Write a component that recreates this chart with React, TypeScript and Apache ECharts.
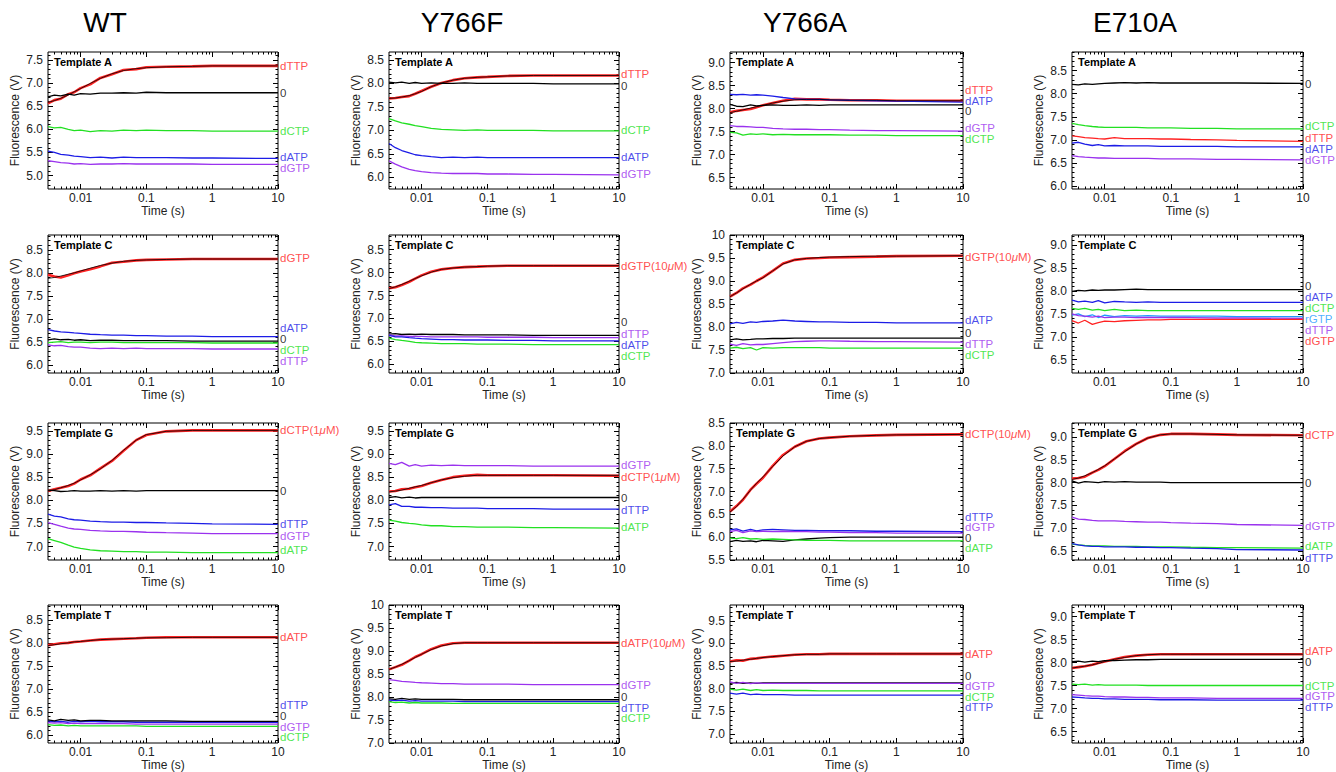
import React, { useEffect, useRef } from 'react';
import * as echarts from 'echarts';

// ---------- shared axis data ----------
const T = [0.0032, 0.004, 0.005, 0.0065, 0.008, 0.01, 0.014, 0.02, 0.03, 0.045, 0.07, 0.1, 0.2, 0.5, 1, 10];
const X_MIN = 0.0032;
const X_MAX = 10;
const X_LABELS = [0.01, 0.1, 1, 10];
const X_MINOR = [0.004, 0.005, 0.006, 0.007, 0.008, 0.009, 0.02, 0.03, 0.04, 0.05, 0.06, 0.07, 0.08, 0.09, 0.2, 0.3, 0.4, 0.5, 0.6, 0.7, 0.8, 0.9, 2, 3, 4, 5, 6, 7, 8, 9];
const MUTANTS = ['WT', 'Y766F', 'Y766A', 'E710A'];
const TEMPLATES = ['Template A', 'Template C', 'Template G', 'Template T'];

// ---------- WT ----------
const WT_A_RANGE = [4.71, 7.67];
const WT_A_TICKS = [5.0, 5.5, 6.0, 6.5, 7.0, 7.5];
const WT_A_dTTP = [6.56, 6.63, 6.66, 6.76, 6.8, 6.89, 6.97, 7.11, 7.19, 7.28, 7.3, 7.34, 7.35, 7.36, 7.37, 7.37];
const WT_A_FIT = [6.58, 6.62, 6.67, 6.74, 6.81, 6.88, 6.99, 7.1, 7.2, 7.27, 7.31, 7.33, 7.35, 7.36, 7.37, 7.37];
const WT_A_0 = [6.7, 6.74, 6.72, 6.76, 6.74, 6.77, 6.76, 6.78, 6.78, 6.79, 6.78, 6.8, 6.79, 6.79, 6.79, 6.79];
const WT_A_dCTP = [6.06, 6.03, 6.04, 6.0, 5.97, 5.98, 5.95, 5.97, 5.96, 5.98, 5.97, 5.98, 5.97, 5.97, 5.96, 5.96];
const WT_A_dATP = [5.53, 5.5, 5.46, 5.44, 5.42, 5.41, 5.39, 5.4, 5.38, 5.4, 5.39, 5.39, 5.39, 5.38, 5.38, 5.37];
const WT_A_dGTP = [5.32, 5.3, 5.28, 5.27, 5.25, 5.26, 5.24, 5.25, 5.25, 5.26, 5.25, 5.25, 5.25, 5.25, 5.24, 5.24];
const WT_A_LABELY = [7.37, 6.78, 5.96, 5.41, 5.17];

const WT_C_RANGE = [5.83, 8.82];
const WT_C_TICKS = [6.0, 6.5, 7.0, 7.5, 8.0, 8.5];
const WT_C_dGTP = [7.96, 7.92, 7.9, 7.95, 7.99, 8.03, 8.08, 8.14, 8.22, 8.24, 8.27, 8.28, 8.29, 8.3, 8.3, 8.3];
const WT_C_FIT = [7.88, 7.9, 7.93, 7.97, 8.0, 8.04, 8.1, 8.16, 8.21, 8.25, 8.27, 8.28, 8.29, 8.3, 8.3, 8.3];
const WT_C_dATP = [6.77, 6.74, 6.72, 6.71, 6.7, 6.69, 6.67, 6.66, 6.65, 6.65, 6.64, 6.64, 6.63, 6.63, 6.62, 6.62];
const WT_C_0 = [6.55, 6.57, 6.55, 6.56, 6.54, 6.55, 6.53, 6.54, 6.54, 6.53, 6.53, 6.53, 6.53, 6.52, 6.52, 6.52];
const WT_C_dCTP = [6.49, 6.5, 6.51, 6.49, 6.5, 6.5, 6.49, 6.5, 6.5, 6.49, 6.49, 6.49, 6.49, 6.49, 6.48, 6.48];
const WT_C_dTTP = [6.44, 6.42, 6.43, 6.4, 6.39, 6.39, 6.37, 6.36, 6.37, 6.36, 6.37, 6.36, 6.36, 6.36, 6.35, 6.35];
const WT_C_LABELY = [8.32, 6.81, 6.57, 6.33, 6.09];

const WT_G_RANGE = [6.71, 9.67];
const WT_G_TICKS = [7.0, 7.5, 8.0, 8.5, 9.0, 9.5];
const WT_G_dCTP = [8.2, 8.24, 8.27, 8.31, 8.36, 8.45, 8.54, 8.69, 8.85, 9.07, 9.3, 9.41, 9.49, 9.51, 9.51, 9.51];
const WT_G_FIT = [8.2, 8.23, 8.27, 8.32, 8.37, 8.44, 8.55, 8.68, 8.86, 9.08, 9.3, 9.42, 9.49, 9.51, 9.51, 9.51];
const WT_G_0 = [8.22, 8.21, 8.19, 8.2, 8.21, 8.2, 8.2, 8.21, 8.2, 8.21, 8.2, 8.21, 8.21, 8.21, 8.21, 8.21];
const WT_G_dTTP = [7.7, 7.66, 7.64, 7.6, 7.58, 7.57, 7.55, 7.54, 7.53, 7.53, 7.52, 7.52, 7.51, 7.5, 7.49, 7.48];
const WT_G_dGTP = [7.52, 7.48, 7.44, 7.4, 7.38, 7.37, 7.35, 7.34, 7.33, 7.33, 7.32, 7.31, 7.3, 7.29, 7.28, 7.28];
const WT_G_dATP = [7.17, 7.13, 7.09, 7.03, 6.99, 6.96, 6.93, 6.91, 6.9, 6.89, 6.89, 6.88, 6.88, 6.87, 6.87, 6.87];
const WT_G_LABELY = [9.51, 8.2, 7.48, 7.22, 6.93];

const WT_T_RANGE = [5.83, 8.82];
const WT_T_TICKS = [6.0, 6.5, 7.0, 7.5, 8.0, 8.5];
const WT_T_dATP = [7.95, 7.97, 7.99, 8.0, 8.02, 8.03, 8.05, 8.07, 8.08, 8.09, 8.1, 8.11, 8.12, 8.12, 8.12, 8.12];
const WT_T_FIT = [7.94, 7.96, 7.98, 8.0, 8.02, 8.03, 8.05, 8.07, 8.08, 8.09, 8.1, 8.11, 8.11, 8.12, 8.12, 8.12];
const WT_T_dTTP = [6.31, 6.29, 6.3, 6.28, 6.3, 6.29, 6.3, 6.29, 6.29, 6.29, 6.28, 6.28, 6.28, 6.28, 6.28, 6.28];
const WT_T_0 = [6.33, 6.31, 6.34, 6.32, 6.33, 6.31, 6.32, 6.32, 6.31, 6.31, 6.31, 6.31, 6.31, 6.3, 6.3, 6.3];
const WT_T_dGTP = [6.27, 6.26, 6.27, 6.25, 6.26, 6.25, 6.25, 6.25, 6.25, 6.25, 6.24, 6.24, 6.24, 6.24, 6.24, 6.24];
const WT_T_dCTP = [6.23, 6.21, 6.22, 6.2, 6.21, 6.2, 6.2, 6.2, 6.2, 6.2, 6.2, 6.19, 6.19, 6.19, 6.19, 6.19];
const WT_T_LABELY = [8.12, 6.66, 6.42, 6.18, 5.95];

// ---------- Y766F ----------
const F_A_RANGE = [5.75, 8.67];
const F_A_TICKS = [6.0, 6.5, 7.0, 7.5, 8.0, 8.5];
const F_A_dTTP = [7.68, 7.69, 7.71, 7.73, 7.78, 7.84, 7.93, 8.01, 8.07, 8.11, 8.13, 8.14, 8.16, 8.17, 8.17, 8.17];
const F_A_FIT = [7.68, 7.69, 7.71, 7.74, 7.78, 7.83, 7.93, 8.01, 8.07, 8.11, 8.13, 8.14, 8.16, 8.17, 8.17, 8.17];
const F_A_0 = [8.03, 8.01, 8.03, 8.0, 8.02, 8.0, 8.01, 8.0, 8.0, 8.01, 8.0, 8.0, 8.0, 8.0, 7.99, 7.99];
const F_A_dCTP = [7.25, 7.2, 7.16, 7.13, 7.1, 7.08, 7.04, 7.02, 7.01, 7.0, 7.01, 7.0, 7.0, 7.0, 6.99, 6.99];
const F_A_dATP = [6.72, 6.63, 6.57, 6.52, 6.48, 6.46, 6.44, 6.42, 6.43, 6.42, 6.43, 6.42, 6.42, 6.42, 6.42, 6.42];
const F_A_dGTP = [6.35, 6.28, 6.22, 6.17, 6.14, 6.12, 6.1, 6.09, 6.08, 6.08, 6.08, 6.07, 6.07, 6.06, 6.06, 6.05];
const F_A_LABELY = [8.21, 7.95, 7.01, 6.44, 6.06];

const F_C_RANGE = [5.81, 8.82];
const F_C_TICKS = [6.0, 6.5, 7.0, 7.5, 8.0, 8.5];
const F_C_dGTP = [7.66, 7.68, 7.73, 7.8, 7.87, 7.94, 8.02, 8.07, 8.1, 8.12, 8.13, 8.14, 8.15, 8.15, 8.15, 8.15];
const F_C_FIT = [7.65, 7.69, 7.74, 7.81, 7.87, 7.93, 8.01, 8.07, 8.1, 8.12, 8.13, 8.14, 8.15, 8.15, 8.15, 8.15];
const F_C_0 = [6.66, 6.67, 6.65, 6.66, 6.65, 6.66, 6.65, 6.65, 6.65, 6.64, 6.64, 6.64, 6.64, 6.63, 6.63, 6.63];
const F_C_dTTP = [6.64, 6.62, 6.62, 6.61, 6.61, 6.61, 6.6, 6.6, 6.6, 6.6, 6.6, 6.59, 6.59, 6.59, 6.58, 6.58];
const F_C_dATP = [6.63, 6.6, 6.6, 6.58, 6.57, 6.56, 6.55, 6.54, 6.54, 6.53, 6.53, 6.53, 6.52, 6.52, 6.51, 6.51];
const F_C_dCTP = [6.57, 6.54, 6.52, 6.5, 6.48, 6.47, 6.46, 6.45, 6.45, 6.45, 6.44, 6.44, 6.44, 6.43, 6.43, 6.43];
const F_C_LABELY = [8.14, 6.92, 6.67, 6.42, 6.17];

const F_G_RANGE = [6.71, 9.67];
const F_G_TICKS = [7.0, 7.5, 8.0, 8.5, 9.0, 9.5];
const F_G_dGTP = [8.8, 8.77, 8.82, 8.74, 8.77, 8.74, 8.76, 8.75, 8.76, 8.75, 8.75, 8.75, 8.75, 8.74, 8.74, 8.74];
const F_G_dCTP = [8.19, 8.2, 8.24, 8.25, 8.28, 8.31, 8.38, 8.44, 8.5, 8.53, 8.55, 8.54, 8.54, 8.54, 8.54, 8.53];
const F_G_FIT = [8.18, 8.2, 8.22, 8.26, 8.29, 8.32, 8.38, 8.44, 8.49, 8.52, 8.54, 8.54, 8.54, 8.54, 8.54, 8.54];
const F_G_0 = [8.06, 8.08, 8.05, 8.07, 8.05, 8.06, 8.06, 8.06, 8.06, 8.06, 8.06, 8.06, 8.06, 8.06, 8.06, 8.06];
const F_G_dTTP = [7.9, 7.93, 7.87, 7.87, 7.85, 7.85, 7.84, 7.84, 7.83, 7.83, 7.83, 7.82, 7.82, 7.82, 7.81, 7.81];
const F_G_dATP = [7.57, 7.55, 7.52, 7.5, 7.49, 7.47, 7.45, 7.45, 7.43, 7.43, 7.42, 7.42, 7.42, 7.41, 7.41, 7.4];
const F_G_LABELY = [8.77, 8.51, 8.04, 7.8, 7.42];

const F_T_RANGE = [7.0, 10.0];
const F_T_TICKS = [7.0, 7.5, 8.0, 8.5, 9.0, 9.5, 10];
const F_T_dATP = [8.6, 8.65, 8.7, 8.79, 8.87, 8.93, 9.04, 9.12, 9.17, 9.18, 9.18, 9.18, 9.18, 9.18, 9.18, 9.18];
const F_T_FIT = [8.6, 8.65, 8.71, 8.79, 8.86, 8.93, 9.03, 9.11, 9.16, 9.18, 9.18, 9.18, 9.18, 9.18, 9.18, 9.18];
const F_T_dGTP = [8.38, 8.36, 8.34, 8.33, 8.32, 8.31, 8.3, 8.29, 8.29, 8.28, 8.28, 8.28, 8.28, 8.27, 8.27, 8.27];
const F_T_0 = [7.96, 7.95, 7.97, 7.95, 7.96, 7.95, 7.95, 7.95, 7.95, 7.94, 7.94, 7.94, 7.94, 7.94, 7.94, 7.94];
const F_T_dTTP = [7.93, 7.92, 7.93, 7.91, 7.92, 7.91, 7.91, 7.91, 7.91, 7.9, 7.9, 7.9, 7.9, 7.9, 7.9, 7.9];
const F_T_dCTP = [7.9, 7.88, 7.89, 7.87, 7.88, 7.87, 7.87, 7.87, 7.86, 7.86, 7.86, 7.86, 7.86, 7.86, 7.86, 7.86];
const F_T_LABELY = [9.18, 8.27, 8.0, 7.77, 7.54];

// ---------- Y766A ----------
const YA_A_RANGE = [6.25, 9.23];
const YA_A_TICKS = [6.5, 7.0, 7.5, 8.0, 8.5, 9.0];
const YA_A_dTTP = [7.92, 7.95, 7.97, 7.99, 8.03, 8.07, 8.12, 8.17, 8.21, 8.2, 8.2, 8.19, 8.18, 8.18, 8.17, 8.17];
const YA_A_FIT = [7.91, 7.94, 7.97, 8.01, 8.04, 8.07, 8.12, 8.16, 8.19, 8.2, 8.2, 8.19, 8.18, 8.18, 8.17, 8.17];
const YA_A_dATP = [8.31, 8.3, 8.31, 8.29, 8.3, 8.29, 8.27, 8.24, 8.21, 8.2, 8.2, 8.19, 8.18, 8.17, 8.16, 8.14];
const YA_A_0 = [8.09, 8.05, 8.04, 8.08, 8.06, 8.07, 8.08, 8.07, 8.07, 8.08, 8.07, 8.08, 8.08, 8.08, 8.08, 8.08];
const YA_A_dGTP = [7.63, 7.61, 7.61, 7.6, 7.59, 7.59, 7.57, 7.56, 7.55, 7.55, 7.54, 7.54, 7.53, 7.52, 7.52, 7.51];
const YA_A_dCTP = [7.48, 7.47, 7.42, 7.45, 7.44, 7.45, 7.43, 7.44, 7.43, 7.43, 7.43, 7.43, 7.42, 7.42, 7.41, 7.41];
const YA_A_LABELY = [8.4, 8.17, 7.94, 7.57, 7.33];

const YA_C_RANGE = [7.0, 10.0];
const YA_C_TICKS = [7.0, 7.5, 8.0, 8.5, 9.0, 9.5, 10];
const YA_C_dGTP = [8.66, 8.74, 8.84, 8.92, 9.0, 9.08, 9.22, 9.38, 9.46, 9.49, 9.5, 9.51, 9.52, 9.53, 9.54, 9.55];
const YA_C_FIT = [8.66, 8.74, 8.83, 8.93, 9.0, 9.07, 9.22, 9.37, 9.46, 9.49, 9.51, 9.52, 9.53, 9.54, 9.54, 9.55];
const YA_C_dATP = [8.07, 8.1, 8.08, 8.11, 8.1, 8.12, 8.13, 8.15, 8.13, 8.12, 8.11, 8.11, 8.1, 8.1, 8.09, 8.09];
const YA_C_0 = [7.72, 7.74, 7.72, 7.73, 7.74, 7.74, 7.75, 7.75, 7.76, 7.76, 7.76, 7.76, 7.76, 7.76, 7.76, 7.76];
const YA_C_dTTP = [7.63, 7.6, 7.64, 7.61, 7.62, 7.62, 7.64, 7.66, 7.68, 7.69, 7.7, 7.7, 7.69, 7.68, 7.68, 7.67];
const YA_C_dCTP = [7.54, 7.56, 7.53, 7.55, 7.5, 7.55, 7.54, 7.55, 7.55, 7.55, 7.55, 7.54, 7.54, 7.54, 7.54, 7.54];
const YA_C_LABELY = [9.53, 8.15, 7.88, 7.63, 7.39];

const YA_G_RANGE = [5.5, 8.5];
const YA_G_TICKS = [5.5, 6.0, 6.5, 7.0, 7.5, 8.0, 8.5];
const YA_G_dCTP = [6.56, 6.68, 6.82, 7.04, 7.17, 7.3, 7.56, 7.8, 7.98, 8.1, 8.16, 8.18, 8.21, 8.23, 8.24, 8.25];
const YA_G_FIT = [6.55, 6.67, 6.83, 7.03, 7.18, 7.32, 7.55, 7.78, 7.98, 8.1, 8.16, 8.18, 8.21, 8.23, 8.24, 8.25];
const YA_G_dTTP = [6.16, 6.18, 6.13, 6.17, 6.14, 6.16, 6.17, 6.16, 6.15, 6.15, 6.14, 6.14, 6.14, 6.13, 6.13, 6.12];
const YA_G_dGTP = [6.12, 6.15, 6.1, 6.14, 6.12, 6.13, 6.12, 6.13, 6.12, 6.12, 6.11, 6.11, 6.1, 6.1, 6.09, 6.09];
const YA_G_0 = [5.9, 5.93, 5.91, 5.92, 5.9, 5.93, 5.92, 5.91, 5.94, 5.96, 5.98, 5.99, 6.0, 6.0, 6.0, 6.0];
const YA_G_dATP = [5.98, 5.97, 5.99, 5.96, 5.97, 5.95, 5.96, 5.95, 5.94, 5.93, 5.93, 5.93, 5.92, 5.92, 5.92, 5.92];
const YA_G_LABELY = [8.25, 6.45, 6.22, 5.99, 5.76];

const YA_T_RANGE = [6.8, 9.85];
const YA_T_TICKS = [7.0, 7.5, 8.0, 8.5, 9.0, 9.5];
const YA_T_dATP = [8.6, 8.63, 8.62, 8.66, 8.67, 8.69, 8.71, 8.73, 8.75, 8.76, 8.76, 8.77, 8.77, 8.77, 8.77, 8.77];
const YA_T_FIT = [8.6, 8.61, 8.63, 8.65, 8.67, 8.69, 8.71, 8.73, 8.75, 8.76, 8.76, 8.77, 8.77, 8.77, 8.77, 8.77];
const YA_T_0 = [8.12, 8.14, 8.12, 8.13, 8.12, 8.13, 8.13, 8.13, 8.13, 8.13, 8.13, 8.13, 8.13, 8.13, 8.13, 8.13];
const YA_T_dGTP = [8.15, 8.12, 8.14, 8.11, 8.13, 8.12, 8.12, 8.12, 8.12, 8.12, 8.12, 8.12, 8.12, 8.12, 8.12, 8.12];
const YA_T_dCTP = [7.99, 7.97, 7.99, 7.96, 7.98, 7.96, 7.97, 7.96, 7.96, 7.96, 7.95, 7.95, 7.95, 7.95, 7.95, 7.95];
const YA_T_dTTP = [7.9, 7.88, 7.9, 7.87, 7.88, 7.87, 7.87, 7.87, 7.86, 7.86, 7.86, 7.86, 7.86, 7.86, 7.86, 7.86];
const YA_T_LABELY = [8.77, 8.28, 8.05, 7.82, 7.59];

// ---------- E710A ----------
const E_A_RANGE = [5.94, 8.9];
const E_A_TICKS = [6.0, 6.5, 7.0, 7.5, 8.0, 8.5];
const E_A_0 = [8.2, 8.19, 8.21, 8.2, 8.21, 8.22, 8.23, 8.24, 8.23, 8.24, 8.23, 8.23, 8.23, 8.23, 8.23, 8.22];
const E_A_dCTP = [7.36, 7.33, 7.31, 7.29, 7.28, 7.27, 7.27, 7.27, 7.27, 7.26, 7.26, 7.26, 7.25, 7.25, 7.24, 7.24];
const E_A_dTTP = [7.09, 7.07, 7.05, 7.04, 7.03, 7.02, 7.05, 7.03, 7.03, 7.03, 7.02, 7.02, 7.01, 7.0, 6.99, 6.97];
const E_A_dATP = [6.93, 6.95, 6.91, 6.88, 6.9, 6.87, 6.88, 6.87, 6.87, 6.87, 6.86, 6.86, 6.86, 6.86, 6.85, 6.85];
const E_A_dGTP = [6.66, 6.64, 6.63, 6.62, 6.61, 6.61, 6.6, 6.6, 6.6, 6.6, 6.59, 6.59, 6.59, 6.58, 6.58, 6.57];
const E_A_LABELY = [8.21, 7.3, 7.04, 6.8, 6.56];

const E_C_RANGE = [6.21, 9.22];
const E_C_TICKS = [6.5, 7.0, 7.5, 8.0, 8.5, 9.0];
const E_C_0 = [7.99, 8.01, 8.0, 8.02, 8.01, 8.02, 8.02, 8.03, 8.04, 8.03, 8.03, 8.03, 8.03, 8.03, 8.03, 8.03];
const E_C_dATP = [7.8, 7.76, 7.78, 7.75, 7.79, 7.74, 7.77, 7.76, 7.75, 7.76, 7.75, 7.75, 7.75, 7.75, 7.75, 7.75];
const E_C_dCTP = [7.62, 7.6, 7.62, 7.58, 7.6, 7.57, 7.6, 7.57, 7.58, 7.57, 7.57, 7.57, 7.57, 7.57, 7.57, 7.57];
const E_C_rGTP = [7.47, 7.5, 7.44, 7.48, 7.42, 7.47, 7.44, 7.46, 7.45, 7.46, 7.45, 7.45, 7.45, 7.45, 7.44, 7.44];
const E_C_dTTP = [7.5, 7.46, 7.45, 7.43, 7.45, 7.42, 7.43, 7.43, 7.42, 7.42, 7.42, 7.42, 7.42, 7.41, 7.41, 7.4];
const E_C_dGTP = [7.35, 7.3, 7.36, 7.27, 7.31, 7.34, 7.33, 7.35, 7.36, 7.37, 7.37, 7.38, 7.38, 7.38, 7.38, 7.38];
const E_C_LABELY = [8.1, 7.86, 7.62, 7.38, 7.14, 6.9];

const E_G_RANGE = [6.3, 9.31];
const E_G_TICKS = [6.5, 7.0, 7.5, 8.0, 8.5, 9.0];
const E_G_dCTP = [8.09, 8.1, 8.13, 8.22, 8.28, 8.36, 8.52, 8.69, 8.85, 8.98, 9.05, 9.07, 9.07, 9.06, 9.05, 9.04];
const E_G_FIT = [8.07, 8.1, 8.15, 8.22, 8.29, 8.37, 8.52, 8.68, 8.85, 8.98, 9.05, 9.07, 9.07, 9.06, 9.05, 9.04];
const E_G_0 = [8.04, 7.99, 8.02, 8.01, 8.0, 8.02, 8.01, 8.02, 8.01, 8.01, 8.01, 8.0, 8.0, 8.0, 8.0, 8.0];
const E_G_dGTP = [7.24, 7.2, 7.19, 7.17, 7.16, 7.16, 7.16, 7.15, 7.14, 7.13, 7.13, 7.12, 7.11, 7.1, 7.08, 7.06];
const E_G_dATP = [6.65, 6.63, 6.62, 6.61, 6.61, 6.61, 6.6, 6.6, 6.6, 6.59, 6.59, 6.59, 6.58, 6.57, 6.57, 6.56];
const E_G_dTTP = [6.66, 6.63, 6.61, 6.6, 6.6, 6.59, 6.59, 6.59, 6.58, 6.58, 6.57, 6.57, 6.56, 6.55, 6.53, 6.52];
const E_G_LABELY = [9.04, 8.0, 7.05, 6.6, 6.35];

const E_T_RANGE = [6.25, 9.25];
const E_T_TICKS = [6.5, 7.0, 7.5, 8.0, 8.5, 9.0];
const E_T_dATP = [7.88, 7.9, 7.92, 7.95, 7.99, 8.02, 8.07, 8.12, 8.15, 8.17, 8.18, 8.18, 8.18, 8.18, 8.18, 8.18];
const E_T_FIT = [7.88, 7.9, 7.92, 7.95, 7.98, 8.02, 8.07, 8.11, 8.15, 8.17, 8.18, 8.18, 8.18, 8.18, 8.18, 8.18];
const E_T_0 = [8.02, 8.03, 8.01, 8.03, 8.02, 8.04, 8.04, 8.05, 8.06, 8.06, 8.07, 8.07, 8.07, 8.07, 8.07, 8.07];
const E_T_dCTP = [7.53, 7.52, 7.53, 7.51, 7.52, 7.51, 7.51, 7.51, 7.51, 7.5, 7.5, 7.5, 7.5, 7.5, 7.5, 7.5];
const E_T_dGTP = [7.3, 7.29, 7.28, 7.27, 7.27, 7.26, 7.25, 7.25, 7.24, 7.24, 7.23, 7.23, 7.23, 7.22, 7.22, 7.22];
const E_T_dTTP = [7.25, 7.24, 7.23, 7.22, 7.22, 7.21, 7.21, 7.2, 7.2, 7.2, 7.19, 7.19, 7.19, 7.18, 7.18, 7.18];
const E_T_LABELY = [8.25, 8.01, 7.5, 7.27, 7.03];

// ---------- styles ----------
const C = {
  red: '#ff2222',
  black: '#000000',
  green: '#22e022',
  blue: '#1c1ce6',
  purple: '#9a32ee',
  cyan: '#1e9cff',
};
const FONT = '"Liberation Sans", Arial, Helvetica, sans-serif';

type Tr = { name: string; color: string; values: number[] };
type Panel = { range: number[]; ticks: number[]; traces: Tr[]; fit?: number[]; labelY: number[] };

const tr = (name: string, color: string, values: number[]): Tr => ({ name, color, values });

const PANELS: Panel[] = [
  // row A
  { range: WT_A_RANGE, ticks: WT_A_TICKS, fit: WT_A_FIT, labelY: WT_A_LABELY, traces: [tr('dTTP', C.red, WT_A_dTTP), tr('0', C.black, WT_A_0), tr('dCTP', C.green, WT_A_dCTP), tr('dATP', C.blue, WT_A_dATP), tr('dGTP', C.purple, WT_A_dGTP)] },
  { range: F_A_RANGE, ticks: F_A_TICKS, fit: F_A_FIT, labelY: F_A_LABELY, traces: [tr('dTTP', C.red, F_A_dTTP), tr('0', C.black, F_A_0), tr('dCTP', C.green, F_A_dCTP), tr('dATP', C.blue, F_A_dATP), tr('dGTP', C.purple, F_A_dGTP)] },
  { range: YA_A_RANGE, ticks: YA_A_TICKS, fit: YA_A_FIT, labelY: YA_A_LABELY, traces: [tr('dTTP', C.red, YA_A_dTTP), tr('dATP', C.blue, YA_A_dATP), tr('0', C.black, YA_A_0), tr('dGTP', C.purple, YA_A_dGTP), tr('dCTP', C.green, YA_A_dCTP)] },
  { range: E_A_RANGE, ticks: E_A_TICKS, labelY: E_A_LABELY, traces: [tr('0', C.black, E_A_0), tr('dCTP', C.green, E_A_dCTP), tr('dTTP', C.red, E_A_dTTP), tr('dATP', C.blue, E_A_dATP), tr('dGTP', C.purple, E_A_dGTP)] },
  // row C
  { range: WT_C_RANGE, ticks: WT_C_TICKS, fit: WT_C_FIT, labelY: WT_C_LABELY, traces: [tr('dGTP', C.red, WT_C_dGTP), tr('dATP', C.blue, WT_C_dATP), tr('0', C.black, WT_C_0), tr('dCTP', C.green, WT_C_dCTP), tr('dTTP', C.purple, WT_C_dTTP)] },
  { range: F_C_RANGE, ticks: F_C_TICKS, fit: F_C_FIT, labelY: F_C_LABELY, traces: [tr('dGTP(10{i|μ}M)', C.red, F_C_dGTP), tr('0', C.black, F_C_0), tr('dTTP', C.purple, F_C_dTTP), tr('dATP', C.blue, F_C_dATP), tr('dCTP', C.green, F_C_dCTP)] },
  { range: YA_C_RANGE, ticks: YA_C_TICKS, fit: YA_C_FIT, labelY: YA_C_LABELY, traces: [tr('dGTP(10{i|μ}M)', C.red, YA_C_dGTP), tr('dATP', C.blue, YA_C_dATP), tr('0', C.black, YA_C_0), tr('dTTP', C.purple, YA_C_dTTP), tr('dCTP', C.green, YA_C_dCTP)] },
  { range: E_C_RANGE, ticks: E_C_TICKS, labelY: E_C_LABELY, traces: [tr('0', C.black, E_C_0), tr('dATP', C.blue, E_C_dATP), tr('dCTP', C.green, E_C_dCTP), tr('rGTP', C.cyan, E_C_rGTP), tr('dTTP', C.purple, E_C_dTTP), tr('dGTP', C.red, E_C_dGTP)] },
  // row G
  { range: WT_G_RANGE, ticks: WT_G_TICKS, fit: WT_G_FIT, labelY: WT_G_LABELY, traces: [tr('dCTP(1{i|μ}M)', C.red, WT_G_dCTP), tr('0', C.black, WT_G_0), tr('dTTP', C.blue, WT_G_dTTP), tr('dGTP', C.purple, WT_G_dGTP), tr('dATP', C.green, WT_G_dATP)] },
  { range: F_G_RANGE, ticks: F_G_TICKS, fit: F_G_FIT, labelY: F_G_LABELY, traces: [tr('dGTP', C.purple, F_G_dGTP), tr('dCTP(1{i|μ}M)', C.red, F_G_dCTP), tr('0', C.black, F_G_0), tr('dTTP', C.blue, F_G_dTTP), tr('dATP', C.green, F_G_dATP)] },
  { range: YA_G_RANGE, ticks: YA_G_TICKS, fit: YA_G_FIT, labelY: YA_G_LABELY, traces: [tr('dCTP(10{i|μ}M)', C.red, YA_G_dCTP), tr('dTTP', C.blue, YA_G_dTTP), tr('dGTP', C.purple, YA_G_dGTP), tr('0', C.black, YA_G_0), tr('dATP', C.green, YA_G_dATP)] },
  { range: E_G_RANGE, ticks: E_G_TICKS, fit: E_G_FIT, labelY: E_G_LABELY, traces: [tr('dCTP', C.red, E_G_dCTP), tr('0', C.black, E_G_0), tr('dGTP', C.purple, E_G_dGTP), tr('dATP', C.green, E_G_dATP), tr('dTTP', C.blue, E_G_dTTP)] },
  // row T
  { range: WT_T_RANGE, ticks: WT_T_TICKS, fit: WT_T_FIT, labelY: WT_T_LABELY, traces: [tr('dATP', C.red, WT_T_dATP), tr('dTTP', C.blue, WT_T_dTTP), tr('0', C.black, WT_T_0), tr('dGTP', C.purple, WT_T_dGTP), tr('dCTP', C.green, WT_T_dCTP)] },
  { range: F_T_RANGE, ticks: F_T_TICKS, fit: F_T_FIT, labelY: F_T_LABELY, traces: [tr('dATP(10{i|μ}M)', C.red, F_T_dATP), tr('dGTP', C.purple, F_T_dGTP), tr('0', C.black, F_T_0), tr('dTTP', C.blue, F_T_dTTP), tr('dCTP', C.green, F_T_dCTP)] },
  { range: YA_T_RANGE, ticks: YA_T_TICKS, fit: YA_T_FIT, labelY: YA_T_LABELY, traces: [tr('dATP', C.red, YA_T_dATP), tr('0', C.black, YA_T_0), tr('dGTP', C.purple, YA_T_dGTP), tr('dCTP', C.green, YA_T_dCTP), tr('dTTP', C.blue, YA_T_dTTP)] },
  { range: E_T_RANGE, ticks: E_T_TICKS, fit: E_T_FIT, labelY: E_T_LABELY, traces: [tr('dATP', C.red, E_T_dATP), tr('0', C.black, E_T_0), tr('dCTP', C.green, E_T_dCTP), tr('dGTP', C.purple, E_T_dGTP), tr('dTTP', C.blue, E_T_dTTP)] },
];

// ---------- layout ----------
const COL_LEFT = [48, 389, 730, 1072];
const COL_W = [230, 230, 233, 231];
const ROW_TOP = [52, 235, 423, 605];
const ROW_H = [137, 138, 137, 138];
const TITLE_X = [105, 462, 805, 1135];

function buildOption() {
  const grid: any[] = [];
  const xAxis: any[] = [];
  const yAxis: any[] = [];
  const series: any[] = [];
  const graphic: any[] = [];

  const labelStyle = { color: '#222', fontSize: 12, fontFamily: FONT };

  PANELS.forEach((p, i) => {
    const row = Math.floor(i / 4);
    const col = i % 4;
    grid.push({
      left: COL_LEFT[col],
      top: ROW_TOP[row],
      width: COL_W[col],
      height: ROW_H[row],
      show: true,
      borderColor: '#000',
      borderWidth: 1,
      backgroundColor: 'transparent',
      containLabel: false,
      outerBoundsMode: 'none',
    });
    const minorY: number[] = [];
    for (let k = Math.ceil(p.range[0] * 10); k <= Math.floor(p.range[1] * 10); k++) minorY.push(k / 10);

    const baseX = { type: 'log', logBase: 10, gridIndex: i, min: X_MIN, max: X_MAX, splitLine: { show: false }, axisLine: { show: false } };
    xAxis.push({
      ...baseX,
      position: 'bottom',
      axisTick: { show: true, inside: true, length: 5, customValues: X_LABELS, lineStyle: { color: '#000' } },
      axisLabel: { ...labelStyle, margin: 3, customValues: X_LABELS, formatter: (v: number) => String(v) },
      name: 'Time (s)',
      nameLocation: 'middle',
      nameGap: 13,
      nameTextStyle: { color: '#222', fontSize: 12, fontFamily: FONT },
    });
    xAxis.push({ ...baseX, position: 'bottom', axisTick: { show: true, inside: true, length: 2.5, customValues: X_MINOR, lineStyle: { color: '#000' } }, axisLabel: { show: false } });
    xAxis.push({ ...baseX, position: 'top', axisTick: { show: true, inside: true, length: 5, customValues: X_LABELS, lineStyle: { color: '#000' } }, axisLabel: { show: false } });
    xAxis.push({ ...baseX, position: 'top', axisTick: { show: true, inside: true, length: 2.5, customValues: X_MINOR, lineStyle: { color: '#000' } }, axisLabel: { show: false } });

    const baseY = { type: 'value', gridIndex: i, min: p.range[0], max: p.range[1], splitLine: { show: false }, axisLine: { show: false } };
    yAxis.push({
      ...baseY,
      position: 'left',
      axisTick: { show: true, inside: true, length: 5, customValues: p.ticks, lineStyle: { color: '#000' } },
      axisLabel: { ...labelStyle, margin: 5, customValues: p.ticks, formatter: (v: number) => (Math.abs(v - 10) < 1e-9 ? '10' : v.toFixed(1)) },
      name: 'Fluorescence (V)',
      nameLocation: 'middle',
      nameGap: 27,
      nameTextStyle: { color: '#222', fontSize: 12, fontFamily: FONT },
    });
    yAxis.push({ ...baseY, position: 'left', axisTick: { show: true, inside: true, length: 2.5, customValues: minorY, lineStyle: { color: '#000' } }, axisLabel: { show: false } });
    yAxis.push({ ...baseY, position: 'right', axisTick: { show: true, inside: true, length: 5, customValues: p.ticks, lineStyle: { color: '#000' } }, axisLabel: { show: false } });
    yAxis.push({ ...baseY, position: 'right', axisTick: { show: true, inside: true, length: 2.5, customValues: minorY, lineStyle: { color: '#000' } }, axisLabel: { show: false } });

    const ax = { xAxisIndex: 4 * i, yAxisIndex: 4 * i };
    p.traces.forEach((t) => {
      const isMain = p.fit && t.color === C.red;
      series.push({
        type: 'line',
        ...ax,
        data: T.map((x, k) => [x, t.values[k]]),
        showSymbol: false,
        symbol: 'none',
        lineStyle: { color: t.color, width: isMain ? 2.6 : 1.3 },
        itemStyle: { color: t.color },
        silent: true,
        z: 2,
      });
    });
    if (p.fit) {
      series.push({
        type: 'line',
        ...ax,
        data: T.map((x, k) => [x, p.fit![k]]),
        showSymbol: false,
        symbol: 'none',
        lineStyle: { color: '#000', width: 0.8 },
        silent: true,
        z: 3,
      });
    }
    series.push({
      type: 'scatter',
      ...ax,
      symbolSize: 0,
      silent: true,
      clip: false,
      z: 4,
      data: p.traces.map((t, k) => ({
        value: [X_MAX, p.labelY[k]],
        label: {
          show: true,
          position: 'right',
          distance: 2,
          formatter: t.name,
          color: t.color,
          fontSize: 11.5,
          lineHeight: 11,
          fontFamily: FONT,
          rich: { i: { fontStyle: 'italic', color: t.color, fontSize: 11.5, lineHeight: 11, fontFamily: FONT } },
        },
      })),
    });

    graphic.push({
      type: 'text',
      x: COL_LEFT[col] + 6,
      y: ROW_TOP[row] + 4,
      style: { text: TEMPLATES[row], font: `bold 11px ${FONT}`, fill: '#000', textAlign: 'left', textVerticalAlign: 'top', align: 'left', verticalAlign: 'top' },
      silent: true,
    });
  });

  MUTANTS.forEach((m, c) => {
    graphic.push({
      type: 'text',
      x: TITLE_X[c],
      y: 22,
      style: { text: m, font: `28px ${FONT}`, fill: '#000', textAlign: 'center', textVerticalAlign: 'middle', align: 'center', verticalAlign: 'middle' },
      silent: true,
    });
  });

  return { animation: false, backgroundColor: '#fff', grid, xAxis, yAxis, series, graphic };
}

export default function App() {
  const ref = useRef<HTMLDivElement>(null);
  useEffect(() => {
    if (!ref.current) return;
    const chart = echarts.init(ref.current, undefined, { renderer: 'svg' });
    chart.setOption(buildOption() as any);
    return () => chart.dispose();
  }, []);
  return <div ref={ref} style={{ position: 'absolute', left: 0, top: 0, width: 1336, height: 772, background: '#fff' }} />;
}
